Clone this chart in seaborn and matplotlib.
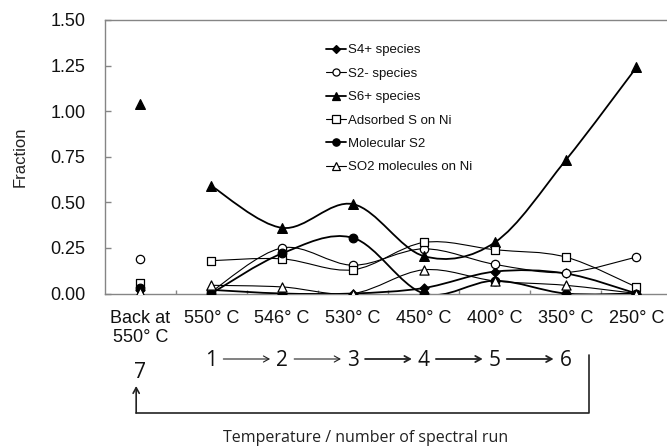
import numpy as np
import matplotlib
matplotlib.use("Agg")
import matplotlib.pyplot as plt
import matplotlib.transforms as mtransforms
from matplotlib.path import Path
from matplotlib.patches import PathPatch, FancyArrowPatch
from matplotlib.lines import Line2D
import seaborn as sns

# ---------------- data ----------------
categories = ["Back at\n550° C", "550° C", "546° C", "530° C", "450° C", "400° C", "350° C", "250° C"]
run_numbers = ["7", "1", "2", "3", "4", "5", "6"]
series_names = ["S4+ species", "S2- species", "S6+ species",
                "Adsorbed S on Ni", "Molecular S2", "SO2 molecules on Ni"]
s4_plus      = [0.02, 0.02, 0.00, 0.00, 0.03, 0.12, 0.11, 0.00]
s2_minus     = [0.19, 0.01, 0.25, 0.155, 0.245, 0.16, 0.115, 0.20]
s6_plus      = [1.04, 0.59, 0.36, 0.49, 0.205, 0.28, 0.73, 1.24]
adsorbed_s   = [0.055, 0.18, 0.19, 0.13, 0.28, 0.24, 0.20, 0.035]
molecular_s2 = [0.03, 0.00, 0.22, 0.305, 0.00, 0.07, 0.00, 0.00]
so2_ni       = [0.01, 0.045, 0.036, 0.00, 0.13, 0.069, 0.045, 0.00]
y_ticks = [0.0, 0.25, 0.5, 0.75, 1.0, 1.25, 1.5]
x_title = "Temperature / number of spectral run"
y_title = "Fraction"

series_values = [s4_plus, s2_minus, s6_plus, adsorbed_s, molecular_s2, so2_ni]
# styles: marker, filled?, marker size(pt), line width
styles = [("D", True, 4.6, 1.3),
          ("o", False, 6.0, 0.8),
          ("^", True, 7.0, 1.3),
          ("s", False, 6.2, 0.8),
          ("o", True, 6.2, 1.3),
          ("^", False, 6.6, 0.8)]

sns.set_theme(style="white")
plt.rcParams["font.family"] = ["Liberation Sans", "DejaVu Sans"]

W, H = 667, 447
fig = plt.figure(figsize=(W / 100, H / 100), dpi=100)
ax_left, ax_bottom, ax_top = 105, 293.5, 20
ax = fig.add_axes([ax_left / W, 1 - ax_bottom / H, 1 - ax_left / W, (ax_bottom - ax_top) / H])

x_pos = np.arange(len(categories))
cat_w = 70.86
ax.set_xlim(-0.5, -0.5 + (W - ax_left) / cat_w)
ax.set_ylim(0, 1.5)


def smooth_path(xs, ys):
    pts = np.column_stack([xs, ys]).astype(float)
    n = len(pts)
    verts = [pts[0]]
    codes = [Path.MOVETO]
    for i in range(n - 1):
        p0 = pts[i - 1] if i > 0 else pts[i]
        p1, p2 = pts[i], pts[i + 1]
        p3 = pts[i + 2] if i + 2 < n else pts[i + 1]
        verts += [p1 + (p2 - p0) / 6, p2 - (p3 - p1) / 6, p2]
        codes += [Path.CURVE4] * 3
    return Path(verts, codes)


for k, (vals, (mk, filled, ms, lw)) in enumerate(zip(series_values, styles)):
    z = 3 + k * 0.2
    # smoothed connecting line for runs 1..6 + 250 C (the "Back at" point stands alone)
    path = smooth_path(x_pos[1:], vals[1:])
    ax.add_patch(PathPatch(path, facecolor="none", edgecolor="black", lw=lw, zorder=z))
    sns.scatterplot(x=x_pos, y=vals, marker=mk, s=ms ** 2,
                    color=("black" if filled else "white"), edgecolor="black",
                    linewidth=0.9, ax=ax, zorder=z + 0.1, legend=False)

# axes styling
spine_col = "#858585"
ax.spines["right"].set_visible(False)
for s in ["left", "bottom", "top"]:
    ax.spines[s].set_color(spine_col)
    ax.spines[s].set_linewidth(1.0)

ax.set_yticks(y_ticks)
ax.set_yticklabels([f"{v:.2f}" for v in y_ticks])
ax.tick_params(axis="y", direction="in", length=4, width=1, color=spine_col,
               labelsize=13, pad=14, labelcolor="#111111", left=True)
ax.set_xticks(x_pos)
ax.set_xticklabels(categories, linespacing=1.15)
ax.tick_params(axis="x", which="major", length=0, labelsize=13, pad=12, labelcolor="#111111")
ax.set_xticks(x_pos[:-1] + 0.5, minor=True)
ax.tick_params(axis="x", which="minor", direction="in", length=3, width=1, color=spine_col, bottom=True)
ax.set_xlabel("")
ax.set_ylabel(y_title, fontsize=12, color="#222222", labelpad=16)
ax.grid(False)

# legend
handles = []
for (mk, filled, ms, lw) in styles:
    handles.append(Line2D([], [], color="black", lw=lw, marker=mk, ms=ms * 0.85,
                          mfc=("black" if filled else "white"), mec="black", mew=0.9))
leg = fig.legend(handles, series_names, loc="upper left",
                 bbox_to_anchor=(326 / W, 1 - 44 / H), frameon=False,
                 fontsize=9.5, handlelength=1.5, handletextpad=0.15,
                 labelspacing=0.85, borderpad=0, borderaxespad=0)
for t in leg.get_texts():
    t.set_color("#111111")

# run-number annotation below the axis
cal = ["Open Sans", "DejaVu Sans"]
tr = mtransforms.blended_transform_factory(ax.transData, fig.transFigure)
y_num = 1 - 361 / H
for i, lab in enumerate(run_numbers):
    yy = y_num if i > 0 else 1 - 372 / H
    fig.text(x_pos[i], yy, lab, transform=tr, ha="center", va="center",
             fontsize=15, family=cal, color="#111111")
y_arr = 1 - 359 / H
for i in range(1, 6):
    lw = 0.8 if i < 3 else 1.3
    arr = FancyArrowPatch((x_pos[i] + 0.17, y_arr), (x_pos[i + 1] - 0.17, y_arr),
                          transform=tr, arrowstyle="->,head_length=4,head_width=2.2",
                          lw=lw, color="#222222", shrinkA=0, shrinkB=0)
    fig.add_artist(arr)
# return bracket 6 -> 7
y_base = 1 - 413 / H
x_right = x_pos[6] + 0.33
x_left = x_pos[0] - 0.06
fig.add_artist(Line2D([x_right, x_right, x_left], [1 - 355 / H, y_base, y_base],
                      transform=tr, color="#222222", lw=1.2))
fig.add_artist(FancyArrowPatch((x_left, y_base), (x_left, 1 - 386 / H), transform=tr,
                               arrowstyle="->,head_length=4,head_width=2.2", lw=1.2,
                               color="#222222", shrinkA=0, shrinkB=0))
fig.text(366 / W, 1 - 438 / H, x_title, ha="center", va="center",
         fontsize=11.5, family=cal, color="#222222")

fig.savefig("out.png", dpi=100)
